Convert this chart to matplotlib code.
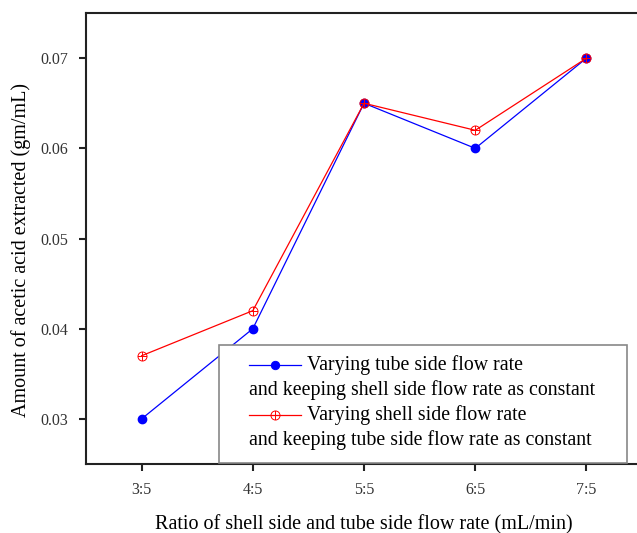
import matplotlib.pyplot as plt
from matplotlib.lines import Line2D
from matplotlib.patches import Rectangle
from matplotlib.path import Path

plt.rcParams['font.family'] = ['Liberation Serif', 'DejaVu Serif']

ratios = ['3:5', '4:5', '5:5', '6:5', '7:5']
vary_tube = [0.030, 0.040, 0.065, 0.060, 0.070]
vary_shell = [0.037, 0.042, 0.065, 0.062, 0.070]
yticks = [0.03, 0.04, 0.05, 0.06, 0.07]

label_tube = ['Varying tube side flow rate',
              'and keeping shell side flow rate as constant']
label_shell = ['Varying shell side flow rate',
               'and keeping tube side flow rate as constant']

# circle with a cross inside, for the shell-side series
circ = Path.unit_circle()
cross = Path([[-1, 0], [1, 0], [0, -1], [0, 1]],
             [Path.MOVETO, Path.LINETO, Path.MOVETO, Path.LINETO])
oplus = Path.make_compound_path(circ, cross)

fig = plt.figure(figsize=(6.37, 5.33), dpi=100)
ax = fig.add_axes([0.135, 0.1295, 0.873, 0.846])

x = list(range(len(ratios)))
ax.plot(x, vary_tube, color='blue', lw=0.9, marker='o', ms=6,
        mfc='blue', mec='blue', zorder=3)
ax.plot(x, vary_shell, color='red', lw=0.9, marker=oplus, ms=6.5,
        mfc='none', mec='red', mew=0.7, zorder=4)

ax.set_xlim(-0.5, 4.5)
ax.set_ylim(0.025, 0.075)
ax.set_xticks(x)
ax.set_xticklabels(ratios)
ax.set_yticks(yticks)
ax.set_yticklabels(['%.2f' % v for v in yticks])

for side in ['left', 'bottom', 'top', 'right']:
    ax.spines[side].set_linewidth(1.5)
    ax.spines[side].set_color('#222222')
ax.tick_params(direction='out', length=5, width=1.5, color='#222222',
               labelsize=11.5, labelcolor='#333333', pad=8)

ax.set_xlabel('Ratio of shell side and tube side flow rate (mL/min)',
              fontsize=14.5, labelpad=12)
ax.set_ylabel('Amount of acetic acid extracted (gm/mL)', fontsize=14.5)
ax.yaxis.set_label_coords(-0.099, 0.475)

# legend box with two-line entries
ax.add_patch(Rectangle((0.239, 0.003), 0.734, 0.261, transform=ax.transAxes,
                       fill=True, facecolor='white', edgecolor='#888888',
                       lw=1.2, zorder=5))
rows = [0.2195, 0.164, 0.109, 0.053]
handles = [('blue', 'o', 'blue', 6, label_tube),
           ('red', oplus, 'none', 6.5, label_shell)]
for i, (col, mk, fc, ms, lab) in enumerate(handles):
    y1 = rows[2 * i]
    y2 = rows[2 * i + 1]
    ax.add_line(Line2D([0.293, 0.387], [y1, y1], transform=ax.transAxes,
                       color=col, lw=0.9, zorder=6, clip_on=False))
    ax.add_line(Line2D([0.340], [y1], transform=ax.transAxes, marker=mk,
                       ms=ms, mfc=fc, mec=col, mew=0.7, ls='none',
                       zorder=6, clip_on=False))
    ax.text(0.397, y1, lab[0], transform=ax.transAxes, fontsize=14.3,
            va='center', ha='left', zorder=6)
    ax.text(0.293, y2, lab[1], transform=ax.transAxes, fontsize=14.3,
            va='center', ha='left', zorder=6)

plt.savefig('out.png', format='png')
